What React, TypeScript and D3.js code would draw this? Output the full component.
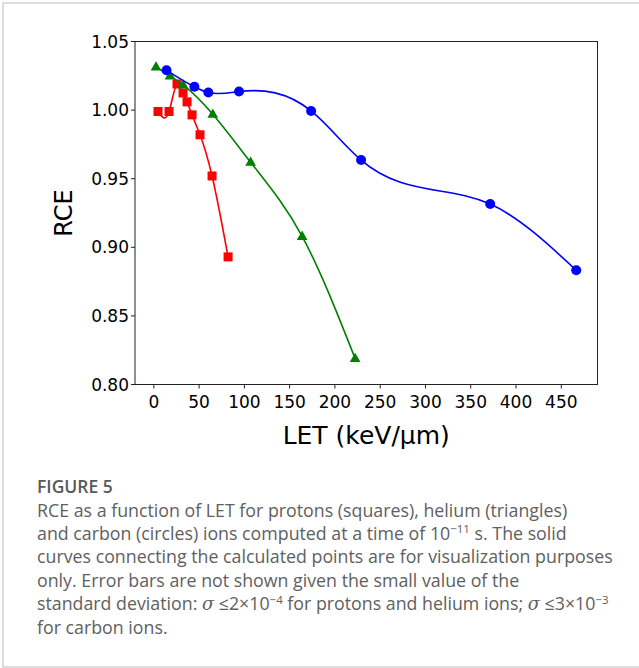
import * as d3 from 'd3';

// protons (squares)
const protonLET = [4.6, 16.8, 25.6, 32.3, 36.7, 42.2, 51.0, 64.3, 82.0];
const protonRCE = [0.999, 0.999, 1.019, 1.0125, 1.006, 0.9965, 0.982, 0.952, 0.893];
// helium (triangles)
const heliumLET = [2.4, 17.9, 32.3, 65.1, 106.9, 163.8, 222.3];
const heliumRCE = [1.0315, 1.025, 1.0184, 0.997, 0.962, 0.908, 0.819];
// carbon (circles)
const carbonLET = [14.0, 44.8, 60.2, 94.1, 173.7, 228.9, 371.5, 466.5];
const carbonRCE = [1.029, 1.017, 1.0128, 1.0135, 0.9994, 0.9636, 0.9315, 0.8833];

const xTicks = [0, 50, 100, 150, 200, 250, 300, 350, 400, 450];
const yTicks = [0.8, 0.85, 0.9, 0.95, 1.0, 1.05];

const W = 639;
const H = 668;
const plot = { left: 135, right: 597.5, top: 41.5, bottom: 384.5 };

const x = d3.scaleLinear().domain([-20.8, 490]).range([plot.left, plot.right]);
const y = d3.scaleLinear().domain([0.8, 1.05]).range([plot.bottom, plot.top]);

type Pt = [number, number];
const zip = (a: number[], b: number[]): Pt[] => a.map((v, i) => [v, b[i]]);

// natural cubic spline y(x), drawn as bezier segments
function curveSpline(context: any) {
  let px: number[] = [];
  let py: number[] = [];
  return {
    areaStart() {},
    areaEnd() {},
    lineStart() {
      px = [];
      py = [];
    },
    point(a: number, b: number) {
      px.push(a);
      py.push(b);
    },
    lineEnd() {
      const n = px.length;
      if (!n) return;
      context.moveTo(px[0], py[0]);
      if (n < 3) {
        for (let i = 1; i < n; i++) context.lineTo(px[i], py[i]);
        return;
      }
      const h = d3.range(n - 1).map((i) => px[i + 1] - px[i]);
      const A = d3.range(n).map(() => new Array(n + 1).fill(0));
      A[0][0] = 1;
      for (let i = 1; i < n - 1; i++) {
        A[i][i - 1] = h[i - 1];
        A[i][i] = 2 * (h[i - 1] + h[i]);
        A[i][i + 1] = h[i];
        A[i][n] = 6 * ((py[i + 1] - py[i]) / h[i] - (py[i] - py[i - 1]) / h[i - 1]);
      }
      A[n - 1][n - 1] = 1;
      for (let c = 0; c < n; c++) {
        let p = c;
        for (let r = c + 1; r < n; r++) if (Math.abs(A[r][c]) > Math.abs(A[p][c])) p = r;
        [A[c], A[p]] = [A[p], A[c]];
        for (let r = 0; r < n; r++) {
          if (r === c) continue;
          const f = A[r][c] / A[c][c];
          for (let j = c; j <= n; j++) A[r][j] -= f * A[c][j];
        }
      }
      const M = A.map((row, i) => row[n] / row[i]);
      for (let i = 0; i < n - 1; i++) {
        const s = (py[i + 1] - py[i]) / h[i];
        const m0 = s - (h[i] * (2 * M[i] + M[i + 1])) / 6;
        const m1 = s + (h[i] * (M[i] + 2 * M[i + 1])) / 6;
        context.bezierCurveTo(
          px[i] + h[i] / 3,
          py[i] + (m0 * h[i]) / 3,
          px[i + 1] - h[i] / 3,
          py[i + 1] - (m1 * h[i]) / 3,
          px[i + 1],
          py[i + 1]
        );
      }
    },
  };
}

const line = d3
  .line<Pt>()
  .x((d) => x(d[0]))
  .y((d) => y(d[1]))
  .curve(curveSpline as any);

const tickFont = 'DejaVu Sans, sans-serif';
const capFont = '"Open Sans", sans-serif';
const capColor = '#606060';

function Series({ pts, color, marker }: { pts: Pt[]; color: string; marker: 's' | '^' | 'o' }) {
  const tri = d3.symbol(d3.symbolTriangle, 50)();
  return (
    <g>
      <path d={line(pts) ?? ''} fill="none" stroke={color} strokeWidth={1.6} />
      {pts.map((d, i) => {
        const cx = x(d[0]);
        const cy = y(d[1]);
        if (marker === 's')
          return <rect key={i} x={cx - 4.5} y={cy - 4.5} width={9} height={9} fill={color} />;
        if (marker === '^')
          return <path key={i} d={tri ?? ''} transform={`translate(${cx},${cy + 0.5})`} fill={color} />;
        return <circle key={i} cx={cx} cy={cy} r={5} fill={color} />;
      })}
    </g>
  );
}

const sup = (t: string) => (
  <tspan dy={-6.5} fontSize={11.5}>
    {t}
  </tspan>
);

export default function App() {
  const lh = 23.4;
  const cap0 = 516.5;
  return (
    <svg
      width={W}
      height={H}
      style={{ position: 'absolute', left: 0, top: 0, background: '#fff' }}
    >
      <rect x={3} y={3} width={638} height={664} fill="#fff" stroke="#c8c8c8" strokeWidth={1.2} />

      {/* axes box */}
      <rect
        x={plot.left}
        y={plot.top}
        width={plot.right - plot.left}
        height={plot.bottom - plot.top}
        fill="none"
        stroke="#222"
        strokeWidth={1}
      />

      {xTicks.map((t) => (
        <g key={t} transform={`translate(${x(t)},${plot.bottom})`}>
          <line y2={4} stroke="#222" strokeWidth={1} />
          <text y={23} textAnchor="middle" fontFamily={tickFont} fontSize={17} fill="#000">
            {t}
          </text>
        </g>
      ))}
      {yTicks.map((t) => (
        <g key={t} transform={`translate(${plot.left},${y(t)})`}>
          <line x2={-4} stroke="#222" strokeWidth={1} />
          <text x={-6} dy="0.36em" textAnchor="end" fontFamily={tickFont} fontSize={17} fill="#000">
            {t.toFixed(2)}
          </text>
        </g>
      ))}

      <Series pts={zip(protonLET, protonRCE)} color="#ff0000" marker="s" />
      <Series pts={zip(heliumLET, heliumRCE)} color="#008000" marker="^" />
      <Series pts={zip(carbonLET, carbonRCE)} color="#0000ff" marker="o" />

      <text
        x={(plot.left + plot.right) / 2}
        y={444}
        textAnchor="middle"
        fontFamily={tickFont}
        fontSize={25}
        fill="#000"
      >
        LET (keV/µm)
      </text>
      <text
        transform={`translate(72,${(plot.top + plot.bottom) / 2}) rotate(-90)`}
        textAnchor="middle"
        fontFamily={tickFont}
        fontSize={24}
        fill="#000"
      >
        RCE
      </text>

      <text x={37} y={493} fontFamily={capFont} fontSize={17.5} fontWeight={600} fill="#595959">
        FIGURE 5
      </text>
      <g fontFamily={capFont} fontSize={17.8} fill={capColor}>
        <text x={37} y={cap0}>
          RCE as a function of LET for protons (squares), helium (triangles)
        </text>
        <text x={37} y={cap0 + lh}>
          and carbon (circles) ions computed at a time of 10{sup('−11')}
          <tspan dy={6.5}> s. The solid</tspan>
        </text>
        <text x={37} y={cap0 + 2 * lh}>
          curves connecting the calculated points are for visualization purposes
        </text>
        <text x={37} y={cap0 + 3 * lh}>
          only. Error bars are not shown given the small value of the
        </text>
        <text x={37} y={cap0 + 4 * lh}>
          standard deviation: <tspan fontStyle="italic" fontFamily="DejaVu Serif, serif">σ</tspan> ≤2×10
          {sup('−4')}
          <tspan dy={6.5}> for protons and helium ions; </tspan>
          <tspan fontStyle="italic" fontFamily="DejaVu Serif, serif">σ</tspan> ≤3×10{sup('−3')}
        </text>
        <text x={37} y={cap0 + 5 * lh}>
          for carbon ions.
        </text>
      </g>
    </svg>
  );
}
